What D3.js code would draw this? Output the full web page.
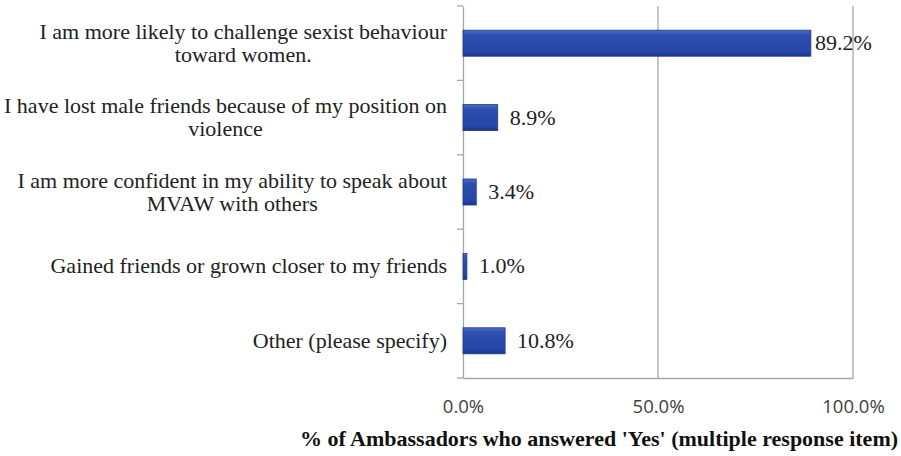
<!DOCTYPE html>
<html><head><meta charset="utf-8">
<script src="https://cdn.jsdelivr.net/npm/d3@7"></script>
<style>body{margin:0;background:#fff}svg{display:block}</style>
</head><body>
<svg id="c" width="901" height="456"></svg>
<script>
const categories = [
  ["I am more likely to challenge sexist behaviour", "toward women."],
  ["I have lost male friends because of my position on", "violence"],
  ["I am more confident in my ability to speak about", "MVAW with others"],
  ["Gained friends or grown closer to my friends"],
  ["Other (please specify)"]
];
const values = [89.2, 8.9, 3.4, 1.0, 10.8];
const xTicks = [0, 50, 100];
const xTitle = "% of Ambassadors who answered 'Yes' (multiple  response item)";

const svg = d3.select("#c");
const L = 463, R = 853, T = 6, B = 378;
const x = d3.scaleLinear().domain([0, 100]).range([L, R]);
const y = d3.scaleBand().domain(d3.range(categories.length)).range([T, B]).paddingInner(0.65).paddingOuter(0.325);
const yb = d3.scaleBand().domain(d3.range(categories.length)).range([T, B]);

const defs = svg.append("defs");
const g = defs.append("linearGradient").attr("id", "bar").attr("x1", 0).attr("y1", 0).attr("x2", 0).attr("y2", 1);
g.append("stop").attr("offset", "0%").attr("stop-color", "#4a6cc8");
g.append("stop").attr("offset", "18%").attr("stop-color", "#2d4fb0");
g.append("stop").attr("offset", "82%").attr("stop-color", "#2646a8");
g.append("stop").attr("offset", "100%").attr("stop-color", "#1a3488");

// gridlines
svg.append("g").selectAll("line").data(xTicks.filter(d => d > 0)).join("line")
  .attr("x1", d => x(d)).attr("x2", d => x(d)).attr("y1", T).attr("y2", B)
  .attr("stroke", "#a6a6a6").attr("stroke-width", 1.3);

// bottom axis
const xa = svg.append("g").attr("transform", `translate(0,${B})`)
  .call(d3.axisBottom(x).tickValues(xTicks).tickSize(0).tickPadding(22).tickFormat(d => d.toFixed(1) + "%"));
xa.select(".domain").attr("stroke", "#a6a6a6").attr("stroke-width", 1.3);
xa.selectAll("text").attr("font-family", "'Open Sans', sans-serif").attr("font-size", 18.5).attr("fill", "#404040");

// left axis
const ya = svg.append("g").attr("transform", `translate(${L},0)`)
  .call(d3.axisLeft(yb).tickValues([]).tickSize(0));
ya.select(".domain").attr("stroke", "#a6a6a6").attr("stroke-width", 1.3);
svg.append("g").selectAll("line").data(d3.range(categories.length + 1)).join("line")
  .attr("x1", L - 6).attr("x2", L).attr("y1", d => T + d * yb.step()).attr("y2", d => T + d * yb.step())
  .attr("stroke", "#a6a6a6").attr("stroke-width", 1.3);

// bars
svg.append("g").selectAll("rect").data(values).join("rect")
  .attr("x", x(0)).attr("y", (d, i) => y(i)).attr("width", d => x(d) - x(0)).attr("height", y.bandwidth())
  .attr("fill", "url(#bar)").attr("stroke", "#1d3a8f").attr("stroke-width", 0.8);

// value labels
svg.append("g").selectAll("text").data(values).join("text")
  .attr("x", d => x(d) + (x(d) > 780 ? 4 : 12)).attr("y", (d, i) => y(i) + y.bandwidth() / 2 + 7)
  .attr("font-family", "'Liberation Serif', serif").attr("font-size", 22).attr("fill", "#222")
  .text(d => d.toFixed(1) + "%");

// category labels
const lh = 23;
const cg = svg.append("g");
categories.forEach((lines, i) => {
  const cy = yb(i) + yb.bandwidth() / 2;
  const t = cg.append("text").attr("font-family", "'Liberation Serif', serif").attr("font-size", 22)
    .attr("fill", "#222").attr("text-anchor", "middle");
  const spans = lines.map((s, j) => t.append("tspan").attr("y", cy + 7 + (j - (lines.length - 1) / 2) * lh).text(s));
  const w = d3.max(spans, s => s.node().getComputedTextLength());
  spans.forEach(s => s.attr("x", 447 - w / 2));
});

// axis title
svg.append("text").attr("x", 599).attr("y", 446).attr("text-anchor", "middle")
  .attr("font-family", "'Liberation Serif', serif").attr("font-weight", "bold").attr("font-size", 22)
  .attr("fill", "#111").text(xTitle);
</script>
</body></html>
